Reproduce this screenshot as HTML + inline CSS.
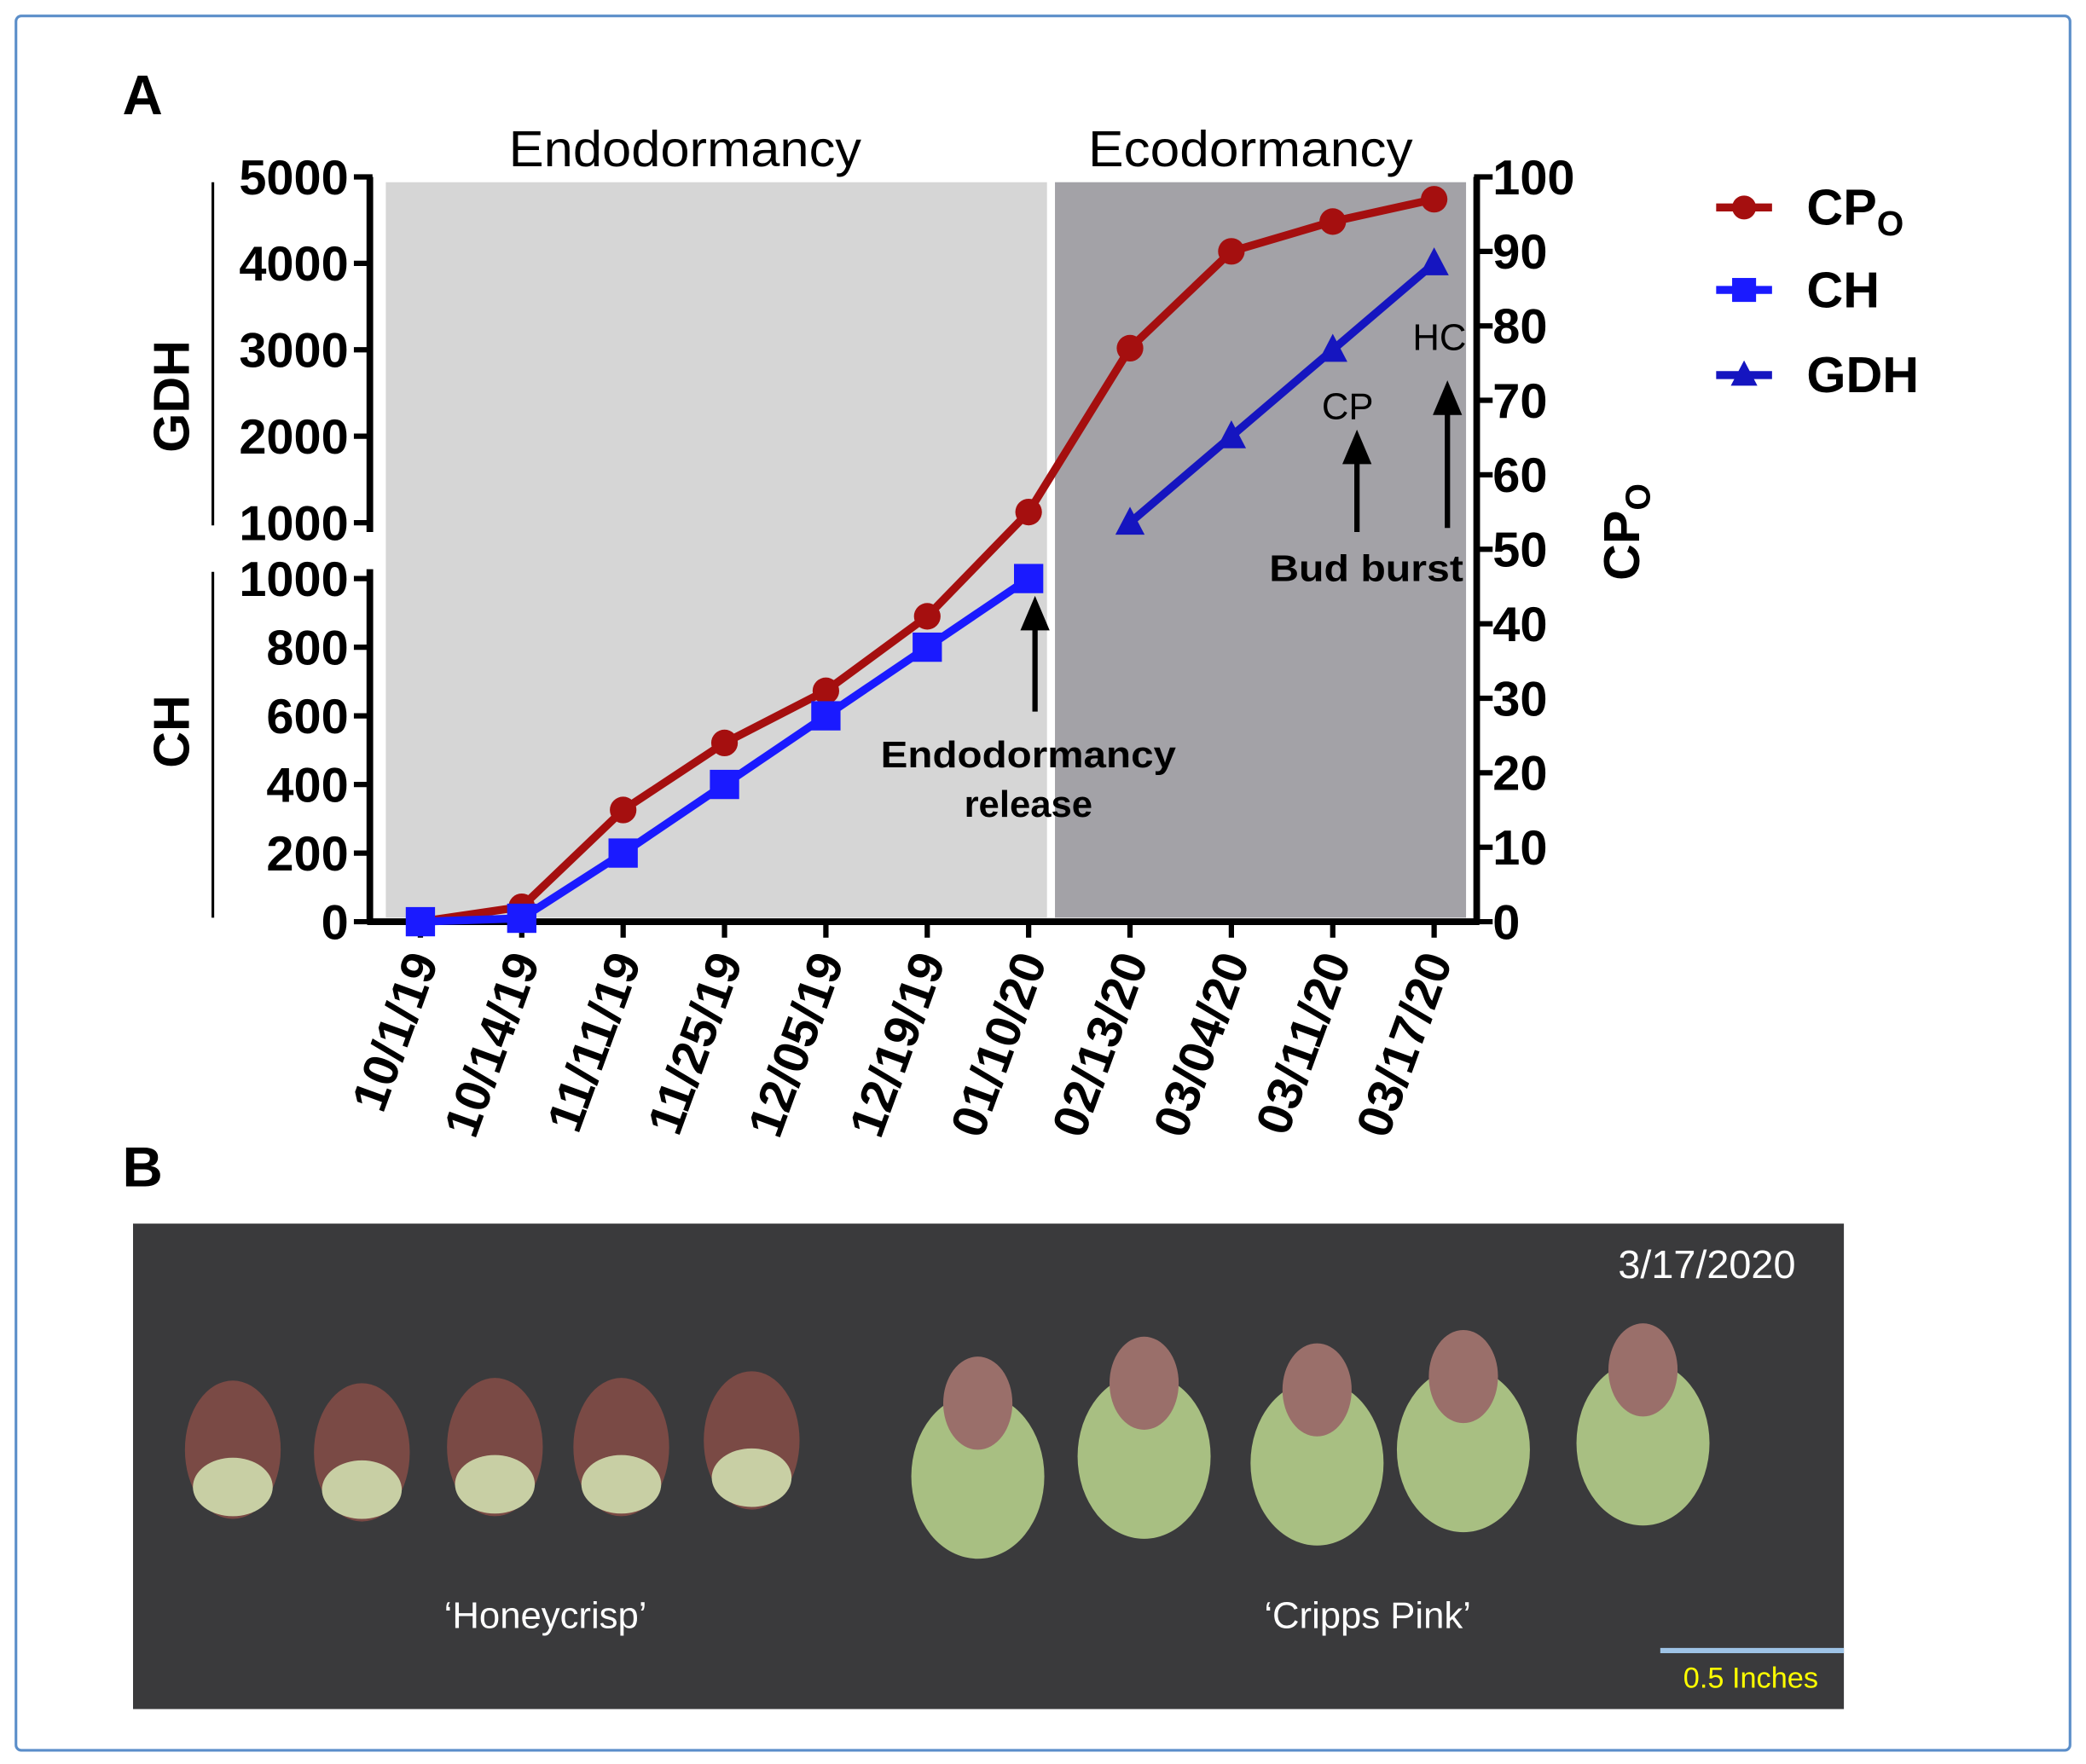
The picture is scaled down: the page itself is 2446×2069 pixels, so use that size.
<!DOCTYPE html>
<html><head><meta charset="utf-8"><style>
html,body{margin:0;padding:0;background:#fff;}
svg{display:block;}
text{font-family:"Liberation Sans",Arial,sans-serif;}
</style></head><body>
<svg id="fig" width="2446" height="2069" viewBox="0 0 1568 1326.3" preserveAspectRatio="none" xmlns="http://www.w3.org/2000/svg">
<rect x="12" y="12" width="1544" height="1304" rx="4" fill="#fff" stroke="#5b8ec9" stroke-width="2"/>
<text x="92" y="86" font-size="42" font-weight="bold">A</text>
<text x="92" y="892" font-size="42" font-weight="bold">B</text>
<rect x="290" y="137" width="497" height="553" fill="#d6d6d6"/>
<rect x="793" y="137" width="309" height="553" fill="#a3a2a7"/>
<text x="515" y="125" font-size="38" text-anchor="middle" textLength="265" lengthAdjust="spacingAndGlyphs">Endodormancy</text>
<text x="940" y="125" font-size="38" text-anchor="middle" textLength="244" lengthAdjust="spacingAndGlyphs">Ecodormancy</text>
<g id="axes"></g>
<g id="series"></g>
<g font-size="28">
<line x1="778" y1="535" x2="778" y2="470" stroke="#000" stroke-width="4"/><polygon points="778,448 767,474 789,474" fill="#000"/>
<text x="773" y="577" font-weight="bold" text-anchor="middle" textLength="222" lengthAdjust="spacingAndGlyphs">Endodormancy</text>
<text x="773" y="614" font-weight="bold" text-anchor="middle">release</text>
<line x1="1020" y1="400" x2="1020" y2="345" stroke="#000" stroke-width="4"/><polygon points="1020,323 1009,349 1031,349" fill="#000"/>
<text x="1013" y="315" text-anchor="middle">CP</text>
<line x1="1088" y1="397" x2="1088" y2="308" stroke="#000" stroke-width="4"/><polygon points="1088,286 1077,312 1099,312" fill="#000"/>
<text x="1082" y="263" text-anchor="middle">HC</text>
<text x="1027" y="437" font-weight="bold" text-anchor="middle" textLength="146" lengthAdjust="spacingAndGlyphs">Bud burst</text>
</g>
<g font-size="38" font-weight="bold">
<g><line x1="1290" y1="156" x2="1332" y2="156" stroke="#a50f0f" stroke-width="6"/><circle cx="1311" cy="156" r="9" fill="#a50f0f"/><text x="1358" y="169">CP<tspan font-size="26" dy="8">O</tspan></text></g>
<g><line x1="1290" y1="218" x2="1332" y2="218" stroke="#1a1aff" stroke-width="6"/><rect x="1302" y="209" width="18" height="18" fill="#1a1aff"/><text x="1358" y="231">CH</text></g>
<g><line x1="1290" y1="282" x2="1332" y2="282" stroke="#1515c0" stroke-width="6"/><polygon points="1311,271 1301,290 1321,290" fill="#1515c0"/><text x="1358" y="295">GDH</text></g>
</g>
<g>
<rect x="100" y="920" width="1286" height="365" fill="#3a3a3c"/>
<g id="buds"></g>
<text x="1283" y="961" font-size="30" fill="#fff" text-anchor="middle">3/17/2020</text>
<text x="410" y="1224" font-size="28" fill="#fff" text-anchor="middle">‘Honeycrisp’</text>
<text x="1028" y="1224" font-size="28" fill="#fff" text-anchor="middle">‘Cripps Pink’</text>
<line x1="1248" y1="1241" x2="1386" y2="1241" stroke="#9ec3e6" stroke-width="4"/>
<text x="1316" y="1269" font-size="22" fill="#ffff00" text-anchor="middle">0.5 Inches</text>
</g>
</svg>
<script>
const dates = ["10/1/19","10/14/19","11/11/19","11/25/19","12/05/19","12/19/19","01/10/20","02/13/20","03/04/20","03/11/20","03/17/20"];
const cpoValues = [0, 2, 15, 24, 31, 41, 55, 77, 90, 94, 97];
const chValues = [0, 10, 200, 400, 600, 800, 1000, null, null, null, null];
const gdhValues = [null, null, null, null, null, null, null, 1000, 2000, 3000, 4000];
const chTicks = [0, 200, 400, 600, 800, 1000];
const gdhTicks = [1000, 2000, 3000, 4000, 5000];
const cpoTicks = [0, 10, 20, 30, 40, 50, 60, 70, 80, 90, 100];

const NS = "http://www.w3.org/2000/svg";
function mk(tag, attrs, parent, txt) {
  const e = document.createElementNS(NS, tag);
  for (const k in attrs) e.setAttribute(k, attrs[k]);
  if (txt !== undefined) e.textContent = txt;
  parent.appendChild(e);
  return e;
}
const xOf = i => 316 + i * 76.2;
const yCpo = v => 693 - v * 5.6;
const yCh = v => 693 - v * 0.258;
const yGdh = v => 393 - (v - 1000) * 0.065;

const axes = document.getElementById('axes');
let xa = mk('line', {x1: 276, y1: 693, x2: 1112, y2: 693, stroke: '#000', 'stroke-width': 5}, axes);


dates.forEach((d, i) => {
  mk('line', {x1: xOf(i), y1: 693, x2: xOf(i), y2: 705, stroke: '#000', 'stroke-width': 4}, axes);
  const t = mk('text', {x: 0, y: 0, 'font-size': 37, 'font-weight': 'bold', 'text-anchor': 'end',
    transform: `translate(${xOf(i) + 14},${722}) rotate(-70)`}, axes, d);
  
  
});
let la = mk('path', {d: 'M278,133 L278,400 M278,428 L278,693', stroke: '#000', 'stroke-width': 5, fill: 'none'}, axes);


gdhTicks.forEach(v => {
  mk('line', {x1: 266, y1: yGdh(v), x2: 280, y2: yGdh(v), stroke: '#000', 'stroke-width': 4}, axes);
  const t = mk('text', {x: 262, y: yGdh(v) + 13, 'font-size': 37, 'font-weight': 'bold', 'text-anchor': 'end'}, axes, v);
  
  
});
chTicks.forEach(v => {
  mk('line', {x1: 266, y1: yCh(v), x2: 280, y2: yCh(v), stroke: '#000', 'stroke-width': 4}, axes);
  const t = mk('text', {x: 262, y: yCh(v) + 13, 'font-size': 37, 'font-weight': 'bold', 'text-anchor': 'end'}, axes, v);
  
  
});
mk('line', {x1: 160, y1: 137, x2: 160, y2: 395, stroke: '#000', 'stroke-width': 2}, axes);
mk('line', {x1: 160, y1: 430, x2: 160, y2: 690, stroke: '#000', 'stroke-width': 2}, axes);
let gt = mk('text', {x: 0, y: 0, 'font-size': 38, 'font-weight': 'bold', 'text-anchor': 'middle', transform: 'translate(142,298) rotate(-90)'}, axes, 'GDH');


let ct = mk('text', {x: 0, y: 0, 'font-size': 38, 'font-weight': 'bold', 'text-anchor': 'middle', transform: 'translate(142,550) rotate(-90)'}, axes, 'CH');


let ra = mk('line', {x1: 1110, y1: 133, x2: 1110, y2: 695, stroke: '#000', 'stroke-width': 5}, axes);


cpoTicks.forEach(v => {
  mk('line', {x1: 1108, y1: yCpo(v), x2: 1122, y2: yCpo(v), stroke: '#000', 'stroke-width': 4}, axes);
  const t = mk('text', {x: 1122, y: yCpo(v) + 13, 'font-size': 37, 'font-weight': 'bold'}, axes, v);
  
  
});
let rt = mk('text', {x: 0, y: 0, 'font-size': 38, 'font-weight': 'bold', 'text-anchor': 'middle', transform: 'translate(1232,400) rotate(-90)'}, axes);


rt.innerHTML = 'CP<tspan font-size="26" dy="8">O</tspan>';

const ser = document.getElementById('series');
function line(vals, yf, color, name) {
  const pts = [];
  vals.forEach((v, i) => { if (v !== null) pts.push(xOf(i) + ',' + yf(v)); });
  const p = mk('polyline', {points: pts.join(' '), fill: 'none', stroke: color, 'stroke-width': 6, 'stroke-linejoin': 'round'}, ser);
  
  
}
line(cpoValues, yCpo, '#a50f0f', 'cpo-line');
line(chValues, yCh, '#1a1aff', 'ch-line');
line(gdhValues, yGdh, '#1515c0', 'gdh-line');
cpoValues.forEach((v, i) => {
  const c = mk('circle', {cx: xOf(i), cy: yCpo(v), r: 10, fill: '#a50f0f'}, ser);
  
  
});
chValues.forEach((v, i) => {
  if (v === null) return;
  const r = mk('rect', {x: xOf(i) - 11, y: yCh(v) - 11, width: 22, height: 22, fill: '#1a1aff'}, ser);
  
  
});
gdhValues.forEach((v, i) => {
  if (v === null) return;
  const x = xOf(i), y = yGdh(v);
  const t = mk('polygon', {points: `${x},${y - 12} ${x - 11},${y + 9} ${x + 11},${y + 9}`, fill: '#1515c0'}, ser);
  
  
});

const buds = document.getElementById('buds');
const hc = [[175, 1090], [272, 1092], [372, 1088], [467, 1088], [565, 1083]];
hc.forEach(([x, y]) => {
  const g = mk('g', {}, buds);
  
  
  mk('ellipse', {cx: x, cy: y, rx: 36, ry: 52, fill: '#7a4a45'}, g);
  mk('ellipse', {cx: x, cy: y + 28, rx: 30, ry: 22, fill: '#c8cfa4'}, g);
});
const cp = [[735, 1100], [860, 1085], [990, 1090], [1100, 1080], [1235, 1075]];
cp.forEach(([x, y]) => {
  const g = mk('g', {}, buds);
  
  
  mk('ellipse', {cx: x, cy: y + 10, rx: 50, ry: 62, fill: '#a8bf82'}, g);
  mk('ellipse', {cx: x, cy: y - 45, rx: 26, ry: 35, fill: '#9a6f6a'}, g);
});
</script>
</body></html>
